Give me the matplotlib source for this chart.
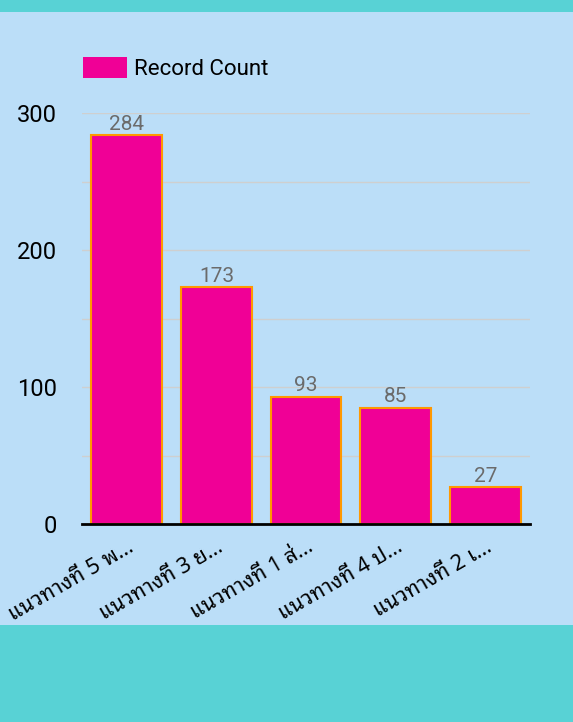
import matplotlib.pyplot as plt
from matplotlib.patches import Rectangle, Patch

categories = ['แนวทางที่ 5 พ...', 'แนวทางที่ 3 ย...', 'แนวทางที่ 1 ส่...', 'แนวทางที่ 4 ป...', 'แนวทางที่ 2 เ...']
counts = [284, 173, 93, 85, 27]
series_name = 'Record Count'

plt.rcParams['font.family'] = ['Roboto', 'DejaVu Sans']
thai_family = ['Noto Sans Thai Looped', 'Loma', 'DejaVu Sans']

fig = plt.figure(figsize=(5.73, 7.22), dpi=100, facecolor='#58D2D5')
# light blue panel between the teal bands
fig.patches.append(Rectangle((0, 97 / 722), 1, (625 - 12) / 722, transform=fig.transFigure,
                             facecolor='#BBDEF8', edgecolor='none', zorder=-1))

ax = fig.add_axes([82 / 573, (722 - 524) / 722, 448 / 573, (524 - 113) / 722])
ax.set_facecolor('none')

x = range(len(categories))
ax.bar(x, counts, width=0.79, color='#F00096', edgecolor='#FF9800', linewidth=1.5, zorder=3)
for xi, v in zip(x, counts):
    ax.text(xi, v + 1, str(v), ha='center', va='bottom', fontsize=15, color='#6b6b6b')

ax.set_xlim(-0.5, len(categories) - 0.5)
ax.set_ylim(0, 300)
ax.set_yticks([0, 100, 200, 300])
ax.set_yticks([50, 150, 250], minor=True)
ax.yaxis.grid(True, which='both', color='#cfcfcf', linewidth=1, zorder=0)
ax.tick_params(axis='y', which='both', length=0, labelsize=17, pad=18, colors='black')
ax.tick_params(axis='x', length=0, labelsize=15.5, pad=9)
ax.set_xticks(list(x))
ax.set_xticklabels(categories, rotation=30, ha='right', rotation_mode='anchor', family=thai_family)
for s in ['top', 'right', 'left']:
    ax.spines[s].set_visible(False)
ax.spines['bottom'].set_linewidth(2)
ax.spines['bottom'].set_zorder(4)

handle = Patch(facecolor='#F00096', edgecolor='none')
ax.legend([handle], [series_name], loc='upper left', bbox_to_anchor=(83 / 573, (722 - 57) / 722),
          bbox_transform=fig.transFigure, frameon=False, fontsize=16, handlelength=2.0,
          handleheight=1.05, borderaxespad=0, borderpad=0, handletextpad=0.3)

fig.savefig('out.png', dpi=100, facecolor=fig.get_facecolor())
